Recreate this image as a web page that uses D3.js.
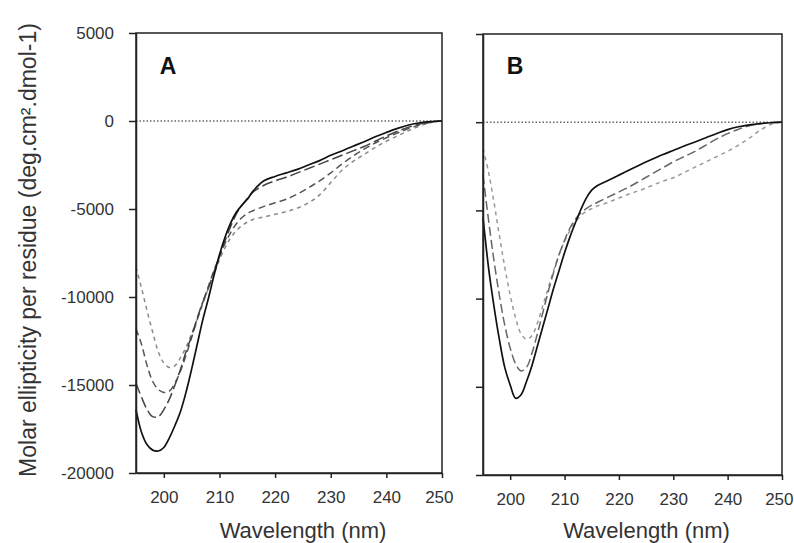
<!DOCTYPE html>
<html>
<head>
<meta charset="utf-8">
<script src="https://d3js.org/d3.v7.min.js"></script>
<style>
  body { margin: 0; background: #fff; }
  svg { font-family: "Liberation Sans", Arial, sans-serif; }
</style>
</head>
<body>
<svg id="chart" width="794" height="543"></svg>
<script>
// wavelength grid (nm) shared by every curve
var wavelengths = [195, 196, 197, 198, 199, 200, 201, 202, 203, 204, 205, 206, 207, 208, 209, 210,
    211, 212, 213, 214, 215, 216, 218, 220, 222, 224, 226, 228, 230, 232, 234, 236, 238, 240,
    242, 244, 246, 248, 250];

var yTicks = [5000, 0, -5000, -10000, -15000, -20000];
var xTicks = [200, 210, 220, 230, 240, 250];

// panel A
var a1 = [-16400, -17700, -18400, -18700, -18750, -18550, -18000, -17300, -16500, -15400, -14100,
    -12700, -11300, -10100, -8800, -7600, -6600, -5800, -5200, -4800, -4450,
    -4000, -3400, -3150, -2950, -2750, -2500, -2250, -1950, -1700, -1430, -1180, -900, -650, -420, -230, -100, -30, 0];
var a2 = [-14900, -15700, -16400, -16800, -16800, -16400, -15800, -15000, -14100, -13100, -12200,
    -11200, -10300, -9500, -8600, -7700, -6800, -6000, -5300, -4800, -4400,
    -4050, -3650, -3400, -3200, -2950, -2700, -2450, -2200, -1950, -1700, -1450, -1150, -850, -580, -350, -170, -50, 0];
var a3 = [-11800, -12700, -13900, -14800, -15250, -15420, -15350, -14900, -14200, -13300, -12300,
    -11300, -10300, -9400, -8500, -7700, -6950, -6350, -5850, -5500, -5250,
    -5100, -4850, -4650, -4450, -4150, -3800, -3400, -2950, -2450, -2000, -1600, -1250, -950, -680, -430, -220, -70, 0];
var a4 = [-8300, -9500, -10800, -12000, -13100, -13750, -14000, -13900, -13450, -12850, -12100,
    -11250, -10400, -9500, -8700, -7900, -7200, -6650, -6250, -5950, -5750,
    -5600, -5450, -5300, -5150, -4950, -4650, -4200, -3500, -2800, -2300, -1900, -1500, -1150, -850, -550, -280, -90, 0];

// panel B
var b1 = [-5400, -8200, -10400, -12300, -13900, -14900, -15650, -15450, -14700, -13800, -12700,
    -11600, -10500, -9400, -8400, -7400, -6500, -5700, -4950, -4300, -3850,
    -3600, -3300, -3000, -2700, -2400, -2120, -1850, -1600, -1350, -1120, -880, -640, -420, -260, -150, -80, -30, 0];
var b2 = [-3000, -5500, -7800, -9800, -11500, -12800, -13700, -14100, -13900, -13100, -12000,
    -10800, -9600, -8500, -7500, -6700, -6000, -5500, -5150, -4900, -4700,
    -4550, -4250, -3950, -3650, -3300, -2950, -2600, -2250, -1950, -1650, -1300, -950, -650, -400, -200, -80, -20, 0];
var b3 = [-1500, -2800, -4500, -6400, -8200, -9800, -11100, -12000, -12300, -12100, -11400,
    -10400, -9400, -8400, -7500, -6750, -6150, -5650, -5300, -5050, -4900,
    -4750, -4550, -4300, -4050, -3850, -3600, -3350, -3150, -2850, -2550, -2250, -1950, -1650, -1300, -900, -450, -120, 0];

var estilos = [
    { color: '#111', dash: null, width: 1.7 },
    { color: '#444', dash: '11,4', width: 1.5 },
    { color: '#555', dash: '7,4', width: 1.5 },
    { color: '#8a8a8a', dash: '4,4', width: 1.5 }
];

var paineis = [
    { label: 'A', left: 136, right: 442, top: 33, bottom: 473, yLabels: true,
      series: [a1, a2, a3, a4], estilos: [estilos[0], estilos[1], estilos[2], estilos[3]] },
    { label: 'B', left: 483, right: 782, top: 34, bottom: 475, yLabels: false,
      series: [b1, b2, b3], estilos: [estilos[0], { color: '#666', dash: '9,4', width: 1.5 }, { color: '#999', dash: '4,4', width: 1.5 }] }
];

var svg = d3.select('#chart');

paineis.forEach(function (p) {
    createPanel(p);
});

// y axis title
svg.append('text')
    .attr('transform', 'translate(36,250) rotate(-90)')
    .attr('text-anchor', 'middle')
    .attr('font-size', 23)
    .attr('fill', '#333')
    .text('Molar ellipticity per residue (deg.cm\u00B2.dmol-1)');

function createPanel(p) {
    var x = d3.scaleLinear().domain([195, 250]).range([p.left, p.right]);
    var y = d3.scaleLinear().domain([-20000, 5000]).range([p.bottom, p.top]);
    var g = svg.append('g');

    // dotted zero line
    g.append('line')
        .attr('x1', x(195)).attr('x2', x(250))
        .attr('y1', y(0)).attr('y2', y(0))
        .attr('stroke', '#666')
        .attr('stroke-width', 1.5)
        .attr('stroke-dasharray', '1.5,2');

    var linha = d3.line()
        .x(function (d, i) { return x(wavelengths[i]); })
        .y(function (d) { return y(d); })
        .curve(d3.curveCatmullRom.alpha(0.5));

    // draw lighter curves first so the solid one stays on top
    for (var i = p.series.length - 1; i >= 0; i--) {
        g.append('path')
            .datum(p.series[i])
            .attr('d', linha)
            .attr('fill', 'none')
            .attr('stroke', p.estilos[i].color)
            .attr('stroke-width', p.estilos[i].width)
            .attr('stroke-dasharray', p.estilos[i].dash);
    }

    // frame
    g.append('rect')
        .attr('x', p.left).attr('y', p.top)
        .attr('width', p.right - p.left).attr('height', p.bottom - p.top)
        .attr('fill', 'none')
        .attr('stroke', '#222')
        .attr('stroke-width', 1.5);

    var yAxis = d3.axisLeft(y).tickValues(yTicks).tickSize(7).tickSizeOuter(0).tickPadding(15)
        .tickFormat(function (d) { return p.yLabels ? String(d) : ''; });
    var ga = g.append('g').attr('transform', 'translate(' + p.left + ',0)').call(yAxis);
    styleAxis(ga);

    var xAxis = d3.axisBottom(x).tickValues(xTicks).tickSize(5).tickSizeOuter(0).tickPadding(13);
    var gb = g.append('g').attr('transform', 'translate(0,' + p.bottom + ')').call(xAxis);
    styleAxis(gb);
    // last label sits on the page edge, nudge it inside
    gb.selectAll('.tick text').filter(function (d) { return d === 250; })
        .attr('text-anchor', 'end').attr('dx', 11);

    g.append('text')
        .attr('x', (p.left + p.right) / 2 + 14)
        .attr('y', 538)
        .attr('text-anchor', 'middle')
        .attr('font-size', 22)
        .attr('fill', '#333')
        .text('Wavelength (nm)');

    g.append('text')
        .attr('x', p.left + 32)
        .attr('y', 74)
        .attr('text-anchor', 'middle')
        .attr('font-size', 23)
        .attr('font-weight', 'bold')
        .attr('fill', '#111')
        .text(p.label);
}

function styleAxis(sel) {
    sel.select('.domain').attr('stroke', '#222').attr('stroke-width', 1.5);
    sel.selectAll('.tick line').attr('stroke', '#222').attr('stroke-width', 1.5);
    sel.selectAll('.tick text')
        .attr('font-size', 17)
        .attr('fill', '#333')
        .attr('font-family', '"Liberation Sans", Arial, sans-serif');
}
</script>
</body>
</html>
